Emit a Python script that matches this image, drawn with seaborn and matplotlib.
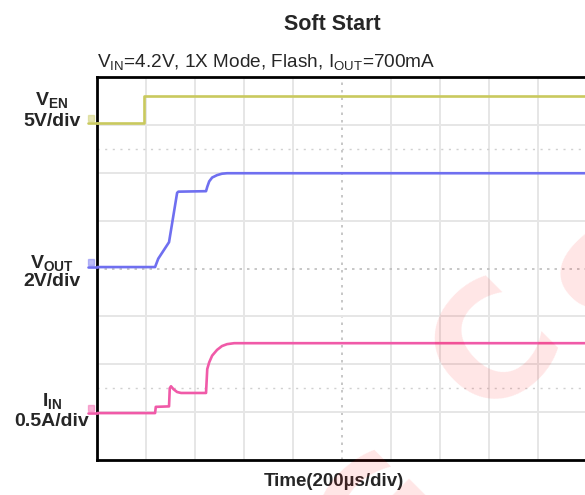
import numpy as np
import pandas as pd
import matplotlib
matplotlib.use("Agg")
import matplotlib.pyplot as plt
import seaborn as sns

# ---------------- data (read from the scope capture) ----------------
time_en_us = [0, 192, 192, 2000]
ven_v = [0.0, 0.0, 2.8, 2.8]

time_out_us = [0, 237, 250, 294, 327, 332, 445, 450, 458, 470, 490, 510, 531, 2000]
vout_v = [0.0, 0.0, 0.35, 1.04, 3.10, 3.15, 3.17, 3.35, 3.58, 3.74, 3.84, 3.90, 3.92, 3.92]

time_in_us = [0, 237, 240, 294, 297, 302, 312, 327, 343, 445, 450, 458, 470, 490, 510, 531, 560, 2000]
iin_a = [0.0, 0.0, 0.065, 0.070, 0.26, 0.28, 0.25, 0.22, 0.21, 0.21, 0.46, 0.53, 0.60, 0.66, 0.70, 0.72, 0.73, 0.73]

channels = ["V_EN", "V_OUT", "I_IN"]
scales_per_div = [5.0, 2.0, 0.5]       # V/div, V/div, A/div
time_per_div_us = 200.0

# ---------------- styling ----------------
sns.set_theme(style="white")
plt.rcParams["font.family"] = ["Liberation Sans", "DejaVu Sans"]
plt.rcParams["mathtext.fontset"] = "custom"
plt.rcParams["mathtext.rm"] = "Liberation Sans"
plt.rcParams["mathtext.bf"] = "Liberation Sans:bold"
plt.rcParams["mathtext.it"] = "Liberation Sans:italic"

colors = {"V_EN": "#c9c95e", "V_OUT": "#6f6ff0", "I_IN": "#f05aa8"}
offsets_div = {"V_EN": 7.04, "V_OUT": 4.03, "I_IN": 0.98}

frames = []
for name, t, v, s in zip(channels,
                         [time_en_us, time_out_us, time_in_us],
                         [ven_v, vout_v, iin_a],
                         scales_per_div):
    df = pd.DataFrame({"t": np.array(t) / time_per_div_us,
                       "y": np.array(v) / s + offsets_div[name],
                       "ch": name})
    frames.append(df)
data = pd.concat(frames, ignore_index=True)

fig = plt.figure(figsize=(5.85, 4.95), dpi=100)
W, H = 585, 495
ax = fig.add_axes([97 / W, 1 - 460 / H, 490 / W, 383 / H])

# grid
for gx in range(1, 10):
    if gx == 5:
        ax.axvline(gx, color="#bdbdbd", lw=1.2, ls=(0, (1.5, 3)), zorder=1)
    else:
        ax.axvline(gx, color="#e6e6e6", lw=1.4, zorder=1)
for gy in range(1, 8):
    if gy == 4:
        ax.axhline(gy, color="#bdbdbd", lw=1.2, ls=(0, (1.5, 3)), zorder=1)
    else:
        ax.axhline(gy, color="#e6e6e6", lw=1.4, zorder=1)
for gy in (6.5, 1.5):
    ax.axhline(gy, color="#d0d0d0", lw=1.0, ls=(0, (1.5, 4)), zorder=1)

sns.lineplot(data=data, x="t", y="y", hue="ch", palette=colors,
             sort=False, estimator=None, lw=1.9, legend=False, ax=ax, zorder=3)

# channel ground markers just left of the screen
for name in channels:
    ax.plot([-0.18, 0.0], [offsets_div[name], offsets_div[name]],
            color=colors[name], lw=1.9, clip_on=False, zorder=3)
    ax.plot([-0.13], [offsets_div[name] + 0.1], marker="s", ms=5,
            color=colors[name], alpha=0.45, clip_on=False, zorder=3)

ax.set_xlim(0, 10)
ax.set_ylim(0, 8)
ax.set_xticks([])
ax.set_yticks([])
ax.set_xlabel("")
ax.set_ylabel("")
for sp in ax.spines.values():
    sp.set_color("black")
    sp.set_linewidth(2.0)

# watermark letters (rotated, faint red)
for ch, (px, py) in [("C", (497, 350)), ("S", (628, 285)), ("G", (385, 525))]:
    fig.text(px / W, 1 - py / H, ch, fontsize=112, fontweight="bold",
             color="red", alpha=0.10, rotation=45, ha="center", va="center",
             family="DejaVu Sans", zorder=10)

# texts
fig.text(332 / W, 1 - 24 / H, "Soft Start", fontsize=15.5, fontweight="bold",
         ha="center", va="center")
fig.text(97 / W, 1 - 62 / H,
         r"V$_{\mathrm{IN}}$=4.2V, 1X Mode, Flash, I$_{\mathrm{OUT}}$=700mA",
         fontsize=13.7, ha="left", va="center")

side = [("V$_{\\mathbf{EN}}$", "5V/div", 100, 121),
        ("V$_{\\mathbf{OUT}}$", "2V/div", 263, 282),
        ("I$_{\\mathbf{IN}}$", "0.5A/div", 401, 421)]
for top, bot, y1, y2 in side:
    fig.text(52 / W, 1 - y1 / H, top, fontsize=14, fontweight="bold",
             ha="center", va="center")
    fig.text(52 / W, 1 - y2 / H, bot, fontsize=14, fontweight="bold",
             ha="center", va="center")

fig.text(334 / W, 1 - 482 / H, "Time(200µs/div)", fontsize=13.5,
         fontweight="bold", ha="center", va="center")

fig.savefig("out.png", dpi=100)
